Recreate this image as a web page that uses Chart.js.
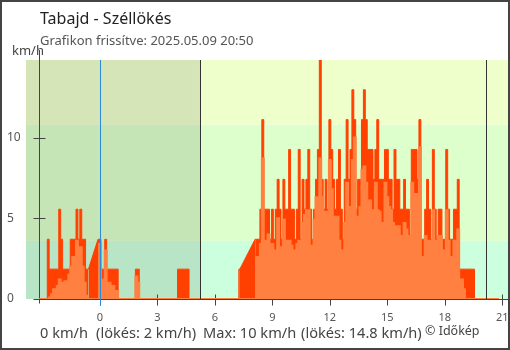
<!DOCTYPE html>
<html>
<head>
<meta charset="utf-8">
<title>Tabajd - Széllökés</title>
<script src="https://cdn.jsdelivr.net/npm/chart.js@4.4.1/dist/chart.umd.min.js"></script>
<style>
  html, body { margin: 0; padding: 0; background: #fff; }
  #wrap { position: relative; width: 510px; height: 350px; }
</style>
</head>
<body>
<div id="wrap"><canvas id="chart" width="510" height="350"></canvas></div>
<script>
// Tabajd — szél és széllökés az utolsó 24 órában (km/h), 6 perces mérések

const hours = [
  -3.17, -2.8, -2.7, -2.6, -2.5, -2.4, -2.3, -2.2, -2.1, -2.0,
  -1.9, -1.8, -1.7, -1.6, -1.5, -1.4, -1.3, -1.2, -1.1, -1.0,
  -0.9, -0.8, -0.7, -0.6, -0.1, 0.0, 0.1, 0.2, 0.3, 0.4,
  0.5, 0.6, 0.7, 0.8, 0.9, 1.0, 1.8, 1.9, 2.0, 2.1,
  4.0, 4.1, 4.2, 4.3, 4.4, 4.5, 4.6, 4.7, 7.2, 7.3,
  8.1, 8.2, 8.3, 8.4, 8.5, 8.6, 8.7, 8.8, 8.9, 9.0,
  9.1, 9.2, 9.3, 9.4, 9.5, 9.6, 9.7, 9.8, 9.9, 10.0,
  10.1, 10.2, 10.3, 10.4, 10.5, 10.6, 10.7, 10.8, 10.9, 11.0,
  11.1, 11.2, 11.3, 11.4, 11.5, 11.6, 11.7, 11.8, 11.9, 12.0,
  12.1, 12.2, 12.3, 12.4, 12.5, 12.6, 12.7, 12.8, 12.9, 13.0,
  13.1, 13.2, 13.3, 13.4, 13.5, 13.6, 13.7, 13.8, 13.9, 14.0,
  14.1, 14.2, 14.3, 14.4, 14.5, 14.6, 14.7, 14.8, 14.9, 15.0,
  15.1, 15.2, 15.3, 15.4, 15.5, 15.6, 15.7, 15.8, 15.9, 16.0,
  16.1, 16.2, 16.3, 16.4, 16.5, 16.6, 16.7, 16.8, 16.9, 17.0,
  17.1, 17.2, 17.3, 17.4, 17.5, 17.6, 17.7, 17.8, 17.9, 18.0,
  18.1, 18.2, 18.3, 18.4, 18.5, 18.6, 18.7, 18.8, 18.9, 19.0,
  19.1, 19.2, 19.3, 19.4, 19.5, 19.6, 20.83
];

const gusts = [
  0, 0, 3.7, 1.85, 1.85, 1.85, 1.85, 1.85, 5.56, 3.7,
  1.85, 1.85, 1.85, 1.85, 3.7, 3.7, 3.7, 5.56, 3.7, 5.56,
  3.7, 3.7, 1.85, 1.85, 3.7, 3.7, 1.85, 1.85, 3.7, 1.85,
  1.85, 1.85, 1.85, 1.85, 1.85, 0, 0, 1.85, 1.85, 0,
  0, 1.85, 1.85, 1.85, 1.85, 1.85, 1.85, 0, 0, 1.85,
  3.7, 3.7, 3.7, 5.56, 11.11, 5.56, 5.56, 5.56, 3.7, 5.56,
  3.7, 5.56, 7.41, 5.56, 3.7, 7.41, 5.56, 5.56, 9.26, 5.56,
  5.56, 3.7, 5.56, 9.26, 3.7, 7.41, 5.56, 7.41, 9.26, 5.56,
  3.7, 5.56, 7.41, 9.26, 14.8, 7.41, 5.56, 7.41, 5.56, 11.11,
  9.26, 7.41, 5.56, 7.41, 9.26, 5.56, 3.7, 7.41, 11.11, 7.41,
  9.26, 12.96, 11.11, 5.56, 7.41, 7.41, 11.11, 12.96, 11.11, 9.26,
  9.26, 9.26, 7.41, 9.26, 11.11, 7.41, 7.41, 7.41, 9.26, 9.26,
  7.41, 7.41, 5.56, 9.26, 7.41, 7.41, 5.56, 5.56, 7.41, 5.56,
  5.56, 3.7, 9.26, 9.26, 9.26, 7.41, 11.11, 3.7, 3.7, 5.56,
  7.41, 5.56, 3.7, 9.26, 5.56, 3.7, 5.56, 5.56, 3.7, 3.7,
  9.26, 5.56, 3.7, 3.7, 5.56, 5.56, 7.41, 1.85, 1.85, 1.85,
  1.85, 1.85, 1.85, 1.85, 1.85, 0, 0
];

const winds = [
  0, 0, 0, 0.1, 0.3, 0.6, 0.4, 0.8, 1.2, 1.0,
  0.5, 1.1, 0.7, 1.5, 2.0, 2.6, 2.2, 3.6, 2.4, 3.2,
  2.0, 1.0, 0.2, 0, 0, 3.4, 0.8, 1.2, 3.0, 0.6,
  1.0, 0.3, 0.8, 0.4, 0.5, 0, 0, 1.4, 1.0, 0,
  0, 0, 0, 0, 0, 0, 0, 0, 0, 0,
  0, 2.6, 2.6, 3.4, 8.7, 3.0, 3.6, 4.0, 2.4, 3.4,
  2.6, 3.0, 5.0, 3.2, 2.4, 4.9, 3.6, 3.4, 3.6, 3.3,
  3.0, 1.0, 3.4, 3.6, 1.8, 4.7, 5.2, 5.5, 5.5, 3.3,
  2.4, 4.9, 6.3, 6.0, 8.7, 6.3, 4.8, 5.4, 3.6, 8.6,
  6.8, 5.1, 4.3, 5.1, 3.6, 3.0, 3.0, 4.7, 7.2, 5.0,
  5.7, 8.6, 10.0, 3.0, 5.1, 5.7, 8.0, 8.2, 7.2, 5.7,
  6.1, 5.5, 5.4, 7.2, 5.5, 5.4, 4.7, 2.6, 7.2, 6.3,
  5.7, 5.5, 4.7, 3.6, 4.5, 4.5, 3.9, 3.6, 4.7, 4.3,
  3.9, 3.0, 7.2, 6.5, 6.5, 5.5, 9.4, 2.0, 2.6, 3.9,
  3.6, 3.6, 1.8, 5.5, 3.6, 3.0, 3.9, 3.9, 2.2, 3.0,
  5.5, 3.6, 2.6, 2.4, 3.6, 3.0, 4.3, 1.0, 1.2, 0.6,
  0, 0, 0, 0, 0, 0, 0
];

// kimaradt mérések: a két időpont között nincs adat
const gaps = [[-0.6, -0.1], [7.3, 8.1]];

const hourTicks = [0, 3, 6, 9, 12, 15, 18, 21];
const speedTicks = [0, 5, 10];
const bandLimits = [0, 3.6, 10.8, 14.8];
const bandColors = ['#ccffdd', '#ddffcc', '#eeffcc'];

const prevSunset = -3.86;   // előző este napnyugta
const sunrise = 5.22;
const sunset = 20.14;
const currentWind = 0;
const currentGust = 2;

const FONT = '"Noto Sans", "Open Sans", sans-serif';
Chart.defaults.font.family = FONT;

const fmt = v => String(Math.round(v * 10) / 10);

// lépcsős görbe, a hiányzó szakaszokon megszakítva
function gustSteps() {
  const pts = [];
  hours.forEach((h, i) => {
    pts.push({ x: h, y: gusts[i] });
    const g = gaps.find(g => g[0] === h);
    if (g) pts.push({ x: (g[0] + g[1]) / 2, y: null });
  });
  return pts;
}

// a hiányzó szakaszok két végpontját egyenessel köti össze
function gustBridges() {
  const pts = [];
  gaps.forEach(([a, b]) => {
    pts.push({ x: a, y: gusts[hours.indexOf(a)] });
    pts.push({ x: b, y: gusts[hours.indexOf(b)] });
    pts.push({ x: b + 0.01, y: null });
  });
  return pts;
}

const decor = {
  id: 'decor',
  beforeDatasetsDraw(chart) {
    const { ctx, chartArea: a, scales: { x, y } } = chart;
    ctx.save();
    // sávok a sebesség szerint
    bandColors.forEach((c, i) => {
      const y0 = y.getPixelForValue(bandLimits[i]);
      const y1 = y.getPixelForValue(bandLimits[i + 1]);
      ctx.fillStyle = c;
      ctx.fillRect(a.left, y1, a.right - a.left, y0 - y1);
    });
    // éjszaka
    const n0 = x.getPixelForValue(prevSunset), n1 = x.getPixelForValue(sunrise);
    ctx.fillStyle = 'rgba(0,0,0,0.1)';
    ctx.fillRect(n0, a.top, n1 - n0, a.bottom - a.top);

    ctx.strokeStyle = '#444';
    ctx.lineWidth = 1;
    const ax = Math.round(x.getPixelForValue(hours[0])) + 0.5;
    const by = Math.round(a.bottom) + 0.5;
    ctx.beginPath();
    ctx.moveTo(ax, 50); ctx.lineTo(ax, by + 4);
    ctx.moveTo(ax, by); ctx.lineTo(a.right, by);
    speedTicks.forEach(v => {
      const py = Math.round(y.getPixelForValue(v)) + 0.5;
      ctx.moveTo(ax - 6, py); ctx.lineTo(ax + 6, py);
    });
    hourTicks.forEach(h => {
      const px = Math.round(x.getPixelForValue(h)) + 0.5;
      ctx.moveTo(px, by - 5); ctx.lineTo(px, by + 6);
    });
    ctx.stroke();
    ctx.restore();
  },
  afterDatasetsDraw(chart) {
    const { ctx, chartArea: a, scales: { x } } = chart;
    ctx.save();
    ctx.lineWidth = 1;
    ctx.strokeStyle = '#333';
    ctx.beginPath();
    [sunrise, sunset].forEach(h => {
      const px = Math.round(x.getPixelForValue(h)) + 0.5;
      ctx.moveTo(px, a.top); ctx.lineTo(px, a.bottom);
    });
    ctx.stroke();
    // éjfél
    const mx = Math.round(x.getPixelForValue(0)) + 0.5;
    ctx.strokeStyle = '#2a8ad8';
    ctx.beginPath();
    ctx.moveTo(mx, a.top); ctx.lineTo(mx, a.bottom + 7);
    ctx.stroke();
    ctx.restore();
  },
  afterDraw(chart) {
    const { ctx } = chart;
    ctx.save();
    ctx.textBaseline = 'alphabetic';
    ctx.textAlign = 'left';
    ctx.fillStyle = '#222';
    ctx.font = '16px ' + FONT;
    ctx.fillText('Tabajd - Széllökés', 40, 24);
    ctx.fillStyle = '#555';
    ctx.font = '13px ' + FONT;
    ctx.fillText('Grafikon frissítve: 2025.05.09 20:50', 40, 45);
    ctx.fillStyle = '#444';
    ctx.fillText('km/h', 12, 55);

    ctx.font = '14.6px ' + FONT;
    ctx.fillText(currentWind + ' km/h', 40, 338);
    ctx.fillText('(lökés: ' + currentGust + ' km/h)', 96, 338);
    ctx.fillText('Max: ' + fmt(Math.max(...winds)) + ' km/h', 203, 338);
    ctx.fillText('(lökés: ' + fmt(Math.max(...gusts)) + ' km/h)', 301, 338);
    ctx.font = '12.5px ' + FONT;
    ctx.fillText('© Időkép', 425, 335);

    ctx.strokeStyle = '#444';
    ctx.lineWidth = 2;
    ctx.strokeRect(1, 1, 508, 348);
    ctx.restore();
  }
};

new Chart(document.getElementById('chart'), {
  type: 'line',
  data: {
    datasets: [
      {
        label: 'Szél',
        data: hours.map((h, i) => ({ x: h, y: winds[i] })),
        borderColor: '#ff8040',
        backgroundColor: '#ff8040',
        borderWidth: 2,
        fill: 'origin',
        pointRadius: 0,
        stepped: 'middle'
      },
      {
        label: 'Széllökés (hiányzó)',
        data: gustBridges(),
        borderColor: '#ff4000',
        backgroundColor: '#ff4000',
        borderWidth: 1,
        fill: 'origin',
        pointRadius: 0,
        tension: 0,
        spanGaps: false
      },
      {
        label: 'Széllökés',
        data: gustSteps(),
        borderColor: '#ff4000',
        backgroundColor: '#ff4000',
        borderWidth: 1,
        fill: 'origin',
        pointRadius: 0,
        stepped: 'middle',
        spanGaps: false
      }
    ]
  },
  options: {
    responsive: false,
    animation: false,
    layout: { padding: { top: 60, right: 1, bottom: 0, left: 7 } },
    plugins: { legend: { display: false }, tooltip: { enabled: false } },
    scales: {
      x: {
        type: 'linear',
        min: -3.86,
        max: 21.35,
        grid: { display: false, drawTicks: false },
        border: { display: false },
        afterBuildTicks: s => { s.ticks = hourTicks.map(v => ({ value: v })); },
        afterFit: s => { s.height = 51; s.paddingLeft = 0; s.paddingRight = 0; },
        ticks: { color: '#555', font: { size: 11 }, padding: 12, maxRotation: 0, autoSkip: false }
      },
      y: {
        min: 0,
        max: 14.8,
        grid: { display: false, drawTicks: false },
        border: { display: false },
        afterBuildTicks: s => { s.ticks = speedTicks.map(v => ({ value: v })); },
        afterFit: s => { s.width = 19; s.paddingTop = 0; s.paddingBottom = 0; },
        ticks: { color: '#555', font: { size: 12 }, crossAlign: 'far', padding: 0 }
      }
    }
  },
  plugins: [decor]
});
</script>
</body>
</html>
